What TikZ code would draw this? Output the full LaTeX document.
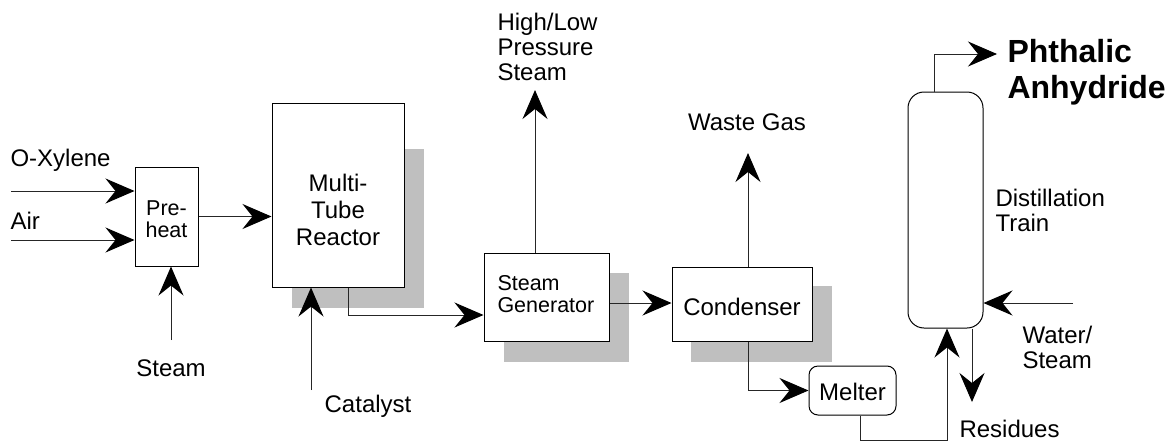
\documentclass[tikz,border=0pt]{standalone}
\usepackage{fontspec}
\setmainfont{Liberation Sans}
\usetikzlibrary{arrows.meta}
\begin{document}
\begin{tikzpicture}[x=1pt,y=-1pt,
  line width=1pt,
  flow/.style={draw=black!85, -{Stealth[length=29pt,width=25pt,inset=10pt,color=black]}},
  unitbox/.style={draw=black, fill=white, inner sep=0pt},
  shadowbox/.style={fill=black!25, draw=none},
  lbl/.style={font=\fontsize{24}{25}\selectfont, inner sep=0pt, align=left},
  smalllbl/.style={font=\fontsize{21.5}{22}\selectfont, inner sep=0pt, align=left},
]
\useasboundingbox (0,0) rectangle (1175,442);

% shadows
\fill[shadowbox] (292,149) rectangle (424,308);
\fill[shadowbox] (504,273) rectangle (629,362);
\fill[shadowbox] (691,286) rectangle (832,362);

% units
\node[unitbox, minimum width=63pt, minimum height=99pt] (preheat) at (166.5,216.5) {};
\node[smalllbl, align=center] (preheattxt) at (166.5,219.5) {Pre-\\heat};
\node[unitbox, minimum width=132pt, minimum height=184pt] (reactor) at (338,195) {};
\node[lbl, align=center, font=\fontsize{24}{27}\selectfont] (reactortxt) at (338,210) {Multi-\\Tube\\Reactor};
\node[unitbox, minimum width=125pt, minimum height=88pt] (sg) at (546.5,297) {};
\node[smalllbl, anchor=west] (sgtxt) at (497,294) {Steam\\Generator};
\node[unitbox, minimum width=140pt, minimum height=74pt] (cond) at (742,304) {};
\node[lbl] (condtxt) at (742,307) {Condenser};
\node[unitbox, rounded corners=9pt, minimum width=87pt, minimum height=49pt] (melter) at (852.5,390.5) {};
\node[lbl] (meltertxt) at (852.5,392) {Melter};
\node[unitbox, rounded corners=16pt, minimum width=75pt, minimum height=236pt] (col) at (945.5,210) {};

% connectors
\coordinate (xin) at (11,191);
\draw[flow] (xin) -- (xin -| preheat.west);
\coordinate (ain) at (11,240);
\draw[flow] (ain) -- (ain -| preheat.west);
\coordinate (sin) at (171,340);
\draw[flow] (sin) -- (sin |- preheat.south);
\draw[flow] (preheat.east) -- (preheat.east -| reactor.west);
\coordinate (cin) at (311,390);
\draw[flow] (cin) -- (cin |- reactor.south);
\coordinate (rout) at (348,315);
\draw[flow] (rout |- reactor.south) -- (rout) -- (rout -| sg.west);
\coordinate (hps) at (535,90);
\draw[flow] (hps |- sg.north) -- (hps);
\coordinate (sgc) at (0,303);
\draw[flow] (sgc -| sg.east) -- (sgc -| cond.west);
\coordinate (wg) at (748,153);
\draw[flow] (wg |- cond.north) -- (wg);
\coordinate (cm) at (748,390.5);
\draw[flow] (cm |- cond.south) -- (cm) -- (melter.west);
\coordinate (ma) at (860,440);
\coordinate (mb) at (947,440);
\draw[flow] (ma |- melter.south) -- (ma) -- (mb) -- (mb |- col.south);
\coordinate (ta) at (934,54);
\coordinate (tb) at (997,54);
\draw[flow] (ta |- col.north) -- (ta) -- (tb);
\coordinate (win) at (1073,303);
\draw[flow] (win) -- (win -| col.east);
\coordinate (res) at (972,402);
\draw[flow] (res |- col.south) -- (res);

% labels
\node[lbl, anchor=west] (oxl) at (10,160) {O-Xylene};
\node[lbl, anchor=west] (airl) at (10,221) {Air};
\node[lbl] (steaml) at (171,368) {Steam};
\node[lbl] (catl) at (368,406) {Catalyst};
\node[lbl, anchor=west] (hpl) at (497,47) {High/Low\\Pressure\\Steam};
\node[lbl] (wgl) at (747,122) {Waste Gas};
\node[lbl, font=\bfseries\fontsize{32}{36}\selectfont, anchor=west] (pal) at (1007,72) {Phthalic\\Anhydride};
\node[lbl, anchor=west] (dtl) at (995,210) {Distillation\\Train};
\node[lbl, anchor=west] (wsl) at (1022,347) {Water/\\Steam};
\node[lbl, anchor=west] (resl) at (959,429) {Residues};
\end{tikzpicture}
\end{document}
